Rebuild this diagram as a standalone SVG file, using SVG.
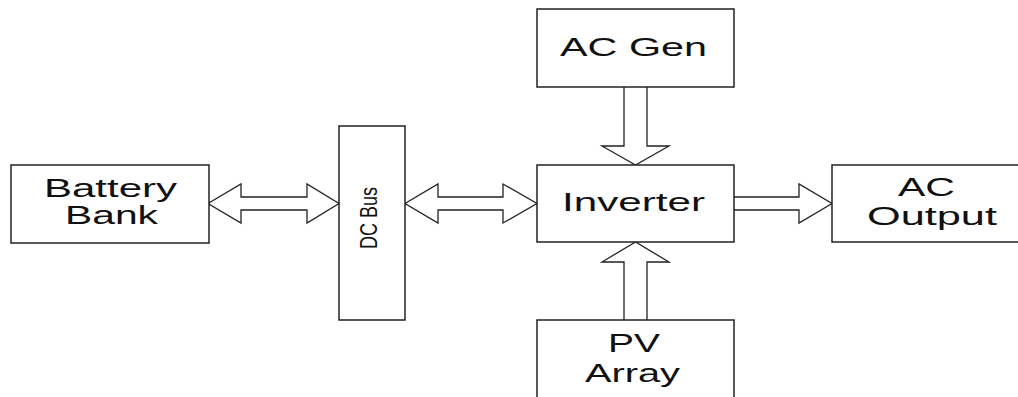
<svg xmlns="http://www.w3.org/2000/svg" width="1018" height="397" viewBox="0 0 1018 397">
<style>
.box{fill:#fff;stroke:#222;stroke-width:1.5}
.arr{fill:#fff;stroke:#222;stroke-width:1.3;stroke-linejoin:miter}
.t{font-family:"Liberation Sans",Arial,sans-serif;font-size:25px;fill:#111}
</style>
<rect width="1018" height="397" fill="#fff"/>
<g id="connectors">
<polygon class="arr" points="208,203.5 241,184 241,197 307,197 307,184 339,203.5 307,223 307,210 241,210 241,223"/>
<polygon class="arr" points="405,203.5 438,184 438,197 503,197 503,184 537,203.5 503,223 503,210 438,210 438,223"/>
<path class="arr" d="M734,197 H799 V184 L832,203.5 L799,223 V210 H734"/>
<path class="arr" d="M624,87 V146 H602 L635.5,165 L669,146 H647 V87"/>
<path class="arr" d="M624,320 V262 H602 L635.5,242 L669,262 H647 V320"/>
</g>
<g id="battery-bank">
<rect class="box" x="11" y="165" width="198" height="78"/>
<text class="t" x="44" y="197" textLength="133" lengthAdjust="spacingAndGlyphs">Battery</text>
<text class="t" x="65" y="224" textLength="93" lengthAdjust="spacingAndGlyphs">Bank</text>
</g>
<g id="dc-bus">
<rect class="box" x="339" y="126" width="66" height="194"/>
<text class="t" style="font-size:23px" transform="translate(377,249) rotate(-90)" x="0" y="0" textLength="62" lengthAdjust="spacingAndGlyphs">DC Bus</text>
</g>
<g id="ac-gen">
<rect class="box" x="537" y="9" width="197" height="78"/>
<text class="t" x="560" y="56" textLength="147" lengthAdjust="spacingAndGlyphs">AC Gen</text>
</g>
<g id="inverter">
<rect class="box" x="537" y="165" width="197" height="77"/>
<text class="t" x="562" y="211" textLength="143" lengthAdjust="spacingAndGlyphs">Inverter</text>
</g>
<g id="ac-output">
<rect class="box" x="832" y="165" width="197" height="77"/>
<text class="t" x="898" y="196" textLength="57" lengthAdjust="spacingAndGlyphs">AC</text>
<text class="t" x="867" y="225" textLength="130" lengthAdjust="spacingAndGlyphs">Output</text>
</g>
<g id="pv-array">
<rect class="box" x="537" y="320" width="197" height="82"/>
<text class="t" x="608" y="352" textLength="52" lengthAdjust="spacingAndGlyphs">PV</text>
<text class="t" x="585" y="382" textLength="95" lengthAdjust="spacingAndGlyphs">Array</text>
</g>
</svg>
